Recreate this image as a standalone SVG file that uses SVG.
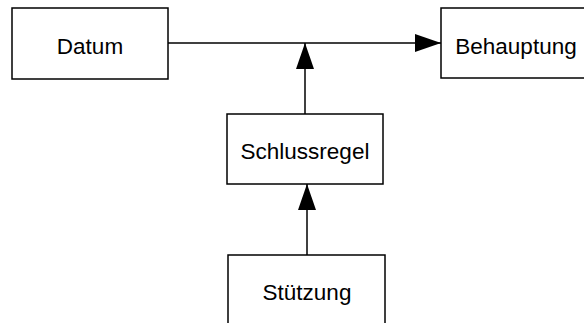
<svg xmlns="http://www.w3.org/2000/svg" width="584" height="323" viewBox="0 0 584 323">
<style>
.box{fill:#fff;stroke:#000;stroke-width:1.5}
.lbl{font-family:"Liberation Sans",Arial,sans-serif;font-size:22.5px;fill:#000;text-anchor:middle}
.con{stroke:#000;stroke-width:1.5;fill:none}
</style>
<defs>
<marker id="ah" viewBox="0 0 26 18" refX="26" refY="9" markerWidth="26" markerHeight="18" markerUnits="userSpaceOnUse" orient="auto">
<path d="M0,0 L26,9 L0,18 Z" fill="#000"/>
</marker>
</defs>
<rect width="584" height="323" fill="#fff"/>
<g id="connectors">
<line class="con" x1="168" y1="43" x2="441" y2="43" marker-end="url(#ah)"/>
<line class="con" x1="305" y1="114" x2="305" y2="43" marker-end="url(#ah)"/>
<line class="con" x1="307" y1="255" x2="307" y2="184" marker-end="url(#ah)"/>
</g>
<g id="datum">
<rect class="box" x="12" y="8" width="156" height="71"/>
<text class="lbl" x="90" y="54">Datum</text>
</g>
<g id="behauptung">
<rect class="box" x="441" y="8" width="156" height="70"/>
<text class="lbl" x="516" y="54">Behauptung</text>
</g>
<g id="schlussregel">
<rect class="box" x="227" y="114" width="156" height="70"/>
<text class="lbl" x="305" y="159">Schlussregel</text>
</g>
<g id="stuetzung">
<rect class="box" x="228" y="255" width="157" height="80"/>
<text class="lbl" x="307" y="300">Stützung</text>
</g>
</svg>
